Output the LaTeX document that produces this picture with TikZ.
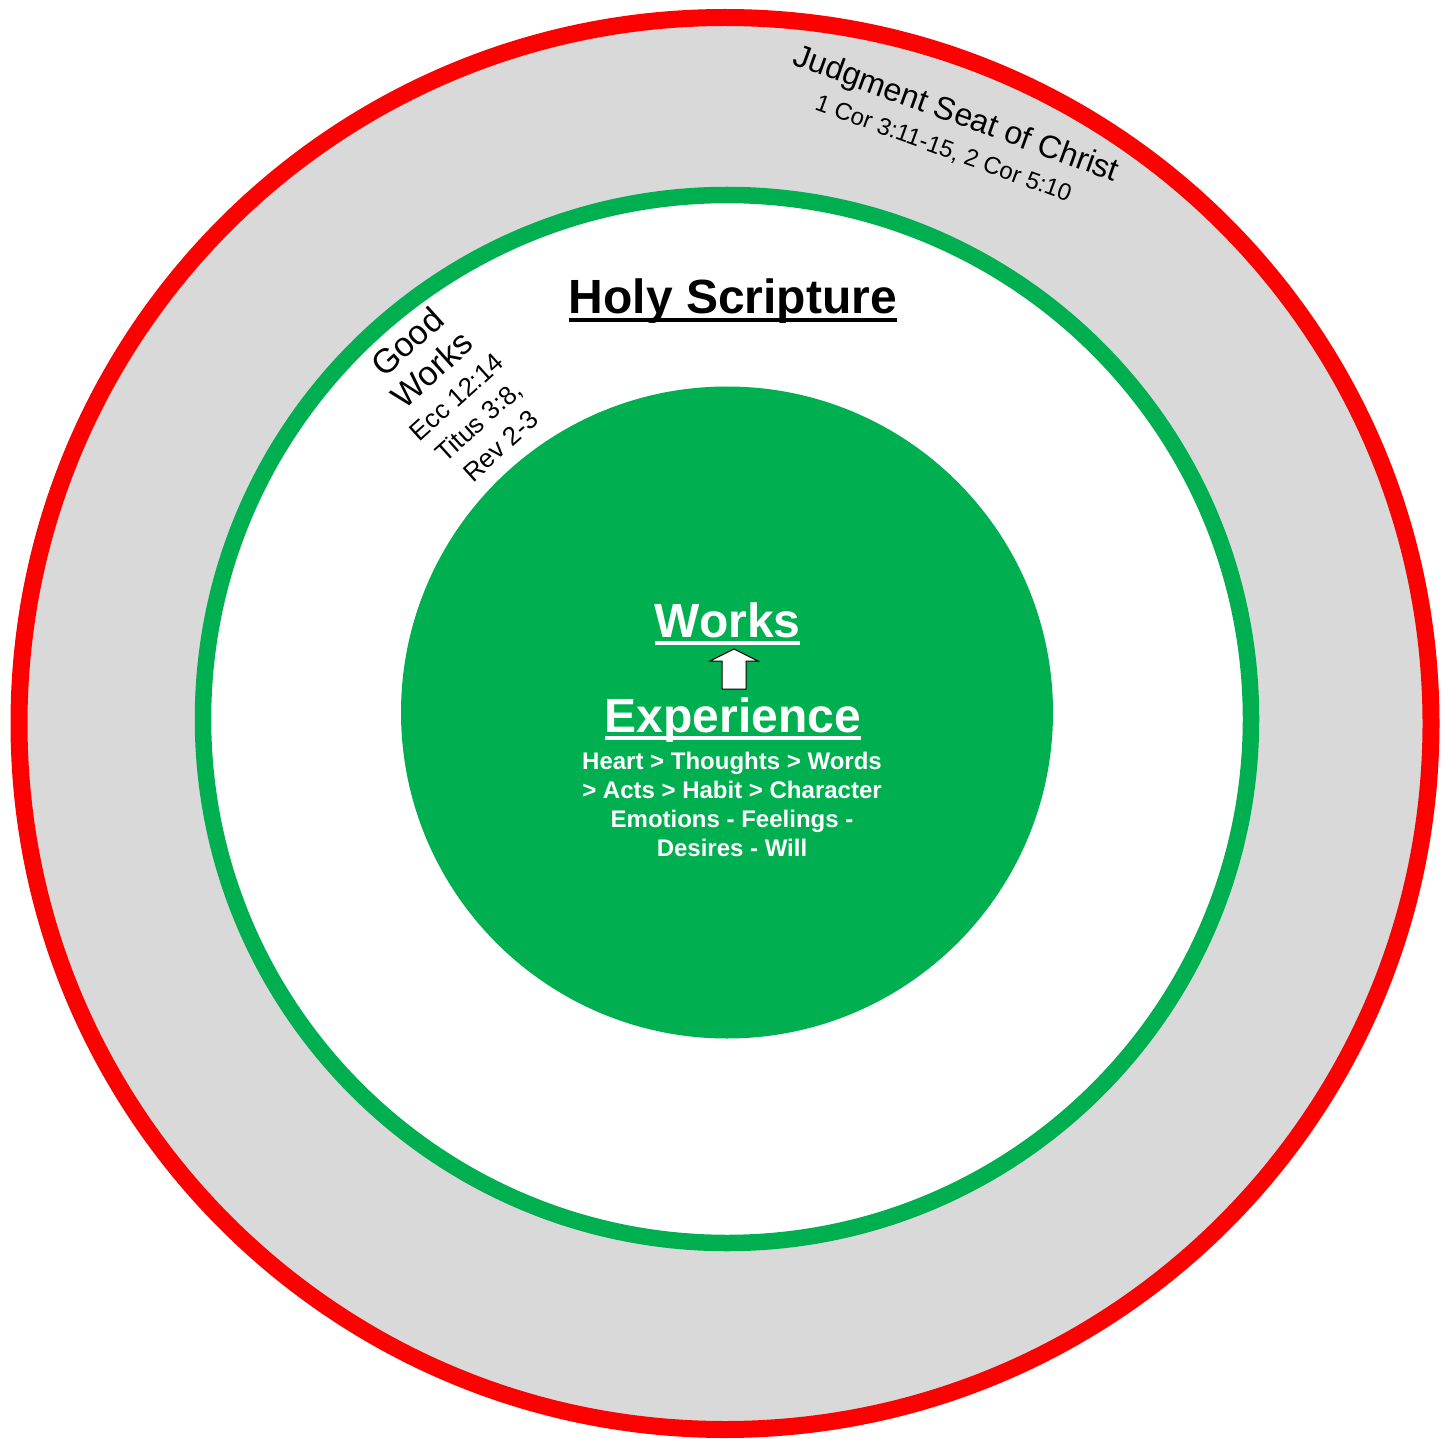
\documentclass[tikz,border=0pt]{standalone}
\usepackage{fontspec}
\setmainfont{Liberation Sans}
\definecolor{seatred}{HTML}{FF0000}
\definecolor{seatgray}{HTML}{D9D9D9}
\definecolor{lifegreen}{HTML}{00B050}
\newsavebox{\ulsave}
\newcommand{\ulbox}[1]{\sbox{\ulsave}{#1}\rlap{\rule[-3.8pt]{\wd\ulsave}{1.8pt}}\usebox{\ulsave}}
\newcommand{\linestrut}[2]{\rule[-#2]{0pt}{\dimexpr #1+#2\relax}}
\begin{document}
\begin{tikzpicture}[x=0.5pt, y=-0.5pt, every node/.style={inner sep=0pt},
  bigtitle/.style={font=\bfseries\fontsize{24}{28}\selectfont, anchor=base}]
\useasboundingbox (0,0) rectangle (1452,1439);
\draw[seatred, fill=seatgray, line width=8.5pt] (725,723.5) circle [radius=706];
\draw[lifegreen, fill=white, line width=8.25pt] (727,719) circle [radius=524];
\fill[lifegreen] (727,712.5) circle [radius=326];
\node (seat) [rotate=-20, align=center] at (950,131) {\fontsize{16}{16.5}\selectfont Judgment Seat of Christ\linestrut{12pt}{4.5pt}\\\fontsize{12}{16.5}\selectfont 1 Cor 3:11-15, 2 Cor 5:10\linestrut{12pt}{3pt}};
\node (goodworks) [rotate=42, align=center] at (455,395) {\fontsize{17}{18.5}\selectfont Good\linestrut{13pt}{4.5pt}\\\fontsize{17}{18.5}\selectfont Works\linestrut{13pt}{4.5pt}\\\fontsize{13}{16.5}\selectfont Ecc 12:14\linestrut{11.5pt}{4pt}\\\fontsize{13}{16.5}\selectfont Titus 3:8,\linestrut{11.5pt}{4pt}\\\fontsize{13}{16.5}\selectfont Rev 2-3\linestrut{11.5pt}{4pt}};
\node (scripture) [bigtitle] at (733,314) {\ulbox{Holy Scripture}};
\node (works) [bigtitle, text=white] at (727.5,637) {\ulbox{Works}};
\node (experience) [bigtitle, text=white] at (733,732) {\ulbox{Experience}};
\node (stages) [text=white, font=\bfseries\fontsize{12}{14.5}\selectfont, align=center, anchor=north] at (732,752) {Heart > Thoughts > Words\\> Acts > Habit > Character\\Emotions - Feelings -\\Desires - Will};
\draw[fill=white, line width=0.5pt] (722,689) -- (722,661) -- (710,661) -- (734,649) -- (758,661) -- (746,661) -- (746,689) -- cycle;
\end{tikzpicture}
\end{document}
